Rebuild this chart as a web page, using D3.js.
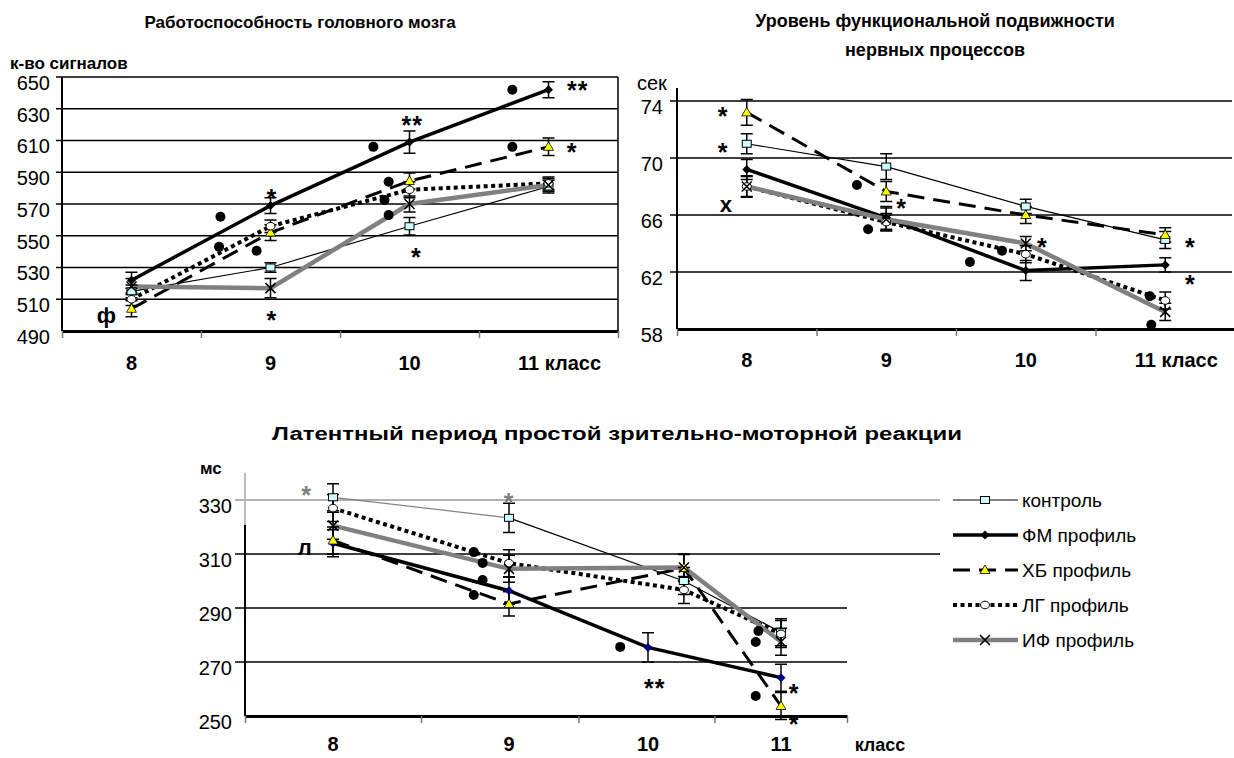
<!DOCTYPE html>
<html><head><meta charset="utf-8">
<script src="https://cdn.jsdelivr.net/npm/d3@7"></script>
<style>body{margin:0;background:#fff} svg{display:block}</style>
</head><body><svg id="c" width="1234" height="758"></svg>
<script>
// ---------- DATA ----------
const classes = [8, 9, 10, 11];
const classLabels = ["8", "9", "10", "11 класс"];
const seriesNames = ["контроль", "ФМ профиль", "ХБ профиль", "ЛГ профиль", "ИФ профиль"];

// Panel 1: Работоспособность головного мозга (к-во сигналов)
const workTicks = [490, 510, 530, 550, 570, 590, 610, 630, 650];
const workControl = [515, 530, 556, 581];
const workFM = [522, 569, 609, 642];
const workHB = [504, 552, 584.5, 606];
const workLG = [510, 556, 579, 583];
const workIF = [518, 517, 570, 582];
const workControlErr = [4, 3, 5.5, 4];
const workFMErr = [5, 5, 7, 5];
const workHBErr = [5, 5, 5, 5.5];
const workLGErr = [4, 4, 5, 4];
const workIFErr = [5, 6, 5, 4];
const workDots = [[8.64, 562], [8.63, 543], [8.9, 540.5], [9.74, 606], [9.85, 584], [9.82, 572.5], [9.85, 563], [10.74, 642], [10.74, 606]];
const workMarks = [[11.21, 645, "**"], [10.02, 623, "**"], [9.01, 577, "*"], [11.17, 606, "*"], [10.05, 540, "*"], [9.01, 500, "*"], [7.82, 499, "ф"]];

// Panel 2: Уровень функциональной подвижности нервных процессов (сек)
const mobTicks = [58, 62, 66, 70, 74];
const mobControl = [71.0, 69.4, 66.6, 64.25];
const mobFM = [69.2, 65.8, 62.1, 62.5];
const mobHB = [73.2, 67.65, 66.0, 64.6];
const mobLG = [68.0, 65.5, 63.25, 60.0];
const mobIF = [68.0, 65.7, 64.0, 59.2];
const mobControlErr = [0.7, 0.9, 0.5, 0.6];
const mobFMErr = [0.7, 0.8, 0.7, 0.5];
const mobHBErr = [0.9, 0.7, 0.6, 0.5];
const mobLGErr = [0.7, 0.6, 0.6, 0.6];
const mobIFErr = [0.75, 0.8, 0.5, 0.6];
const mobDots = [[8.79, 68.1], [8.87, 65.0], [9.6, 62.7], [9.83, 63.5], [10.89, 60.3], [10.9, 58.3]];
const mobMarks = [[7.83, 73.3, "*"], [7.83, 70.8, "*"], [7.85, 66.7, "x"], [9.11, 66.85, "*"], [10.12, 64.1, "*"], [11.18, 64.1, "*"], [11.18, 61.5, "*"]];

// Panel 3: Латентный период простой зрительно-моторной реакции (мс)
const latTicks = [250, 270, 290, 310, 330];
const latX = [8, 9, 10.27, 11];
const latXFM = [8, 9, 10, 11];
const latControl = [331, 323.4, 300, 281];
const latFM = [314, 296.4, 275.4, 264.2];
const latHB = [315, 291.5, 304.8, 253.7];
const latLG = [327, 306.6, 296.7, 280.4];
const latIF = [320.5, 304.5, 305, 277.5];
const latControlErr = [5, 5.4, 5, 5];
const latFMErr = [5, 5, 5.4, 5];
const latHBErr = [5, 4.5, 5, 5];
const latLGErr = [5, 5, 5, 5];
const latIFErr = [5, 5, 5, 5];
const latDots = [[8.8, 310.7], [8.85, 306.7], [8.85, 300.4], [8.8, 294.8], [9.8, 275.6], [10.83, 281.5], [10.81, 277.4], [10.81, 257.4]];
const latMarks = [[7.85, 333.7, "*", "#808080"], [9.0, 331, "*", "#808080"], [7.84, 312, "л"], [10.05, 262.2, "**"], [11.1, 260.5, "*"], [11.1, 249, "*"]];

// ---------- STYLE ----------
const FONT = '"Liberation Sans", Arial, Helvetica, sans-serif';
const styles = {
  "контроль":   {stroke: "#000", width: 1.2, dash: null, marker: "square"},
  "ФМ профиль": {stroke: "#000", width: 3.5, dash: null, marker: "diamond"},
  "ХБ профиль": {stroke: "#000", width: 3, dash: "17,9", marker: "triangle"},
  "ЛГ профиль": {stroke: "#000", width: 4, dash: "4,3.5", marker: "circle"},
  "ИФ профиль": {stroke: "#808080", width: 4.5, dash: null, marker: "x"}
};

const svg = d3.select("#c");

function marker(g, type, cx, cy, diamondFill) {
  if (type === "square") {
    g.append("rect").attr("x", cx - 4.5).attr("y", cy - 3.5).attr("width", 9).attr("height", 7)
      .attr("fill", "#ccffff").attr("stroke", "#000").attr("stroke-width", 1);
  } else if (type === "diamond") {
    g.append("path").attr("d", `M${cx},${cy - 4.5}L${cx + 4.5},${cy}L${cx},${cy + 4.5}L${cx - 4.5},${cy}Z`)
      .attr("fill", diamondFill || "#000");
  } else if (type === "triangle") {
    g.append("path").attr("d", `M${cx},${cy - 5}L${cx + 5},${cy + 3.5}L${cx - 5},${cy + 3.5}Z`)
      .attr("fill", "#ffff00").attr("stroke", "#000").attr("stroke-width", 0.8);
  } else if (type === "circle") {
    g.append("ellipse").attr("cx", cx).attr("cy", cy).attr("rx", 4.5).attr("ry", 3.8)
      .attr("fill", "#fff").attr("stroke", "#000").attr("stroke-width", 1);
  } else if (type === "x") {
    g.append("path").attr("d", `M${cx - 5},${cy - 5}L${cx + 5},${cy + 5}M${cx - 5},${cy + 5}L${cx + 5},${cy - 5}`)
      .attr("stroke", "#000").attr("stroke-width", 1.5);
  }
}

function drawPanel(o) {
  const g = svg.append("g");
  const x = o.x, y = o.y;
  const base = y(o.ticks[0]);

  g.selectAll("line.grid").data(o.ticks.slice(1)).join("line").attr("class", "grid")
    .attr("x1", o.gridLeft).attr("x2", t => o.gridRight(t))
    .attr("y1", t => y(t)).attr("y2", t => y(t))
    .attr("stroke", t => o.gridColor ? o.gridColor(t) : "#000").attr("stroke-width", 1.4);

  const yg = g.append("g").attr("transform", `translate(${o.axisX},0)`)
    .call(d3.axisLeft(y).tickValues(o.ticks).tickSize(0).tickPadding(o.labelPad));
  yg.select(".domain").remove();
  yg.selectAll("text").attr("font-size", 20).attr("font-family", FONT).attr("fill", "#000").attr("dy", "0.62em");

  if (o.axisGrayTo) {
    g.append("line").attr("x1", o.axisX).attr("x2", o.axisX).attr("y1", o.axisTop).attr("y2", o.axisGrayTo)
      .attr("stroke", "#bbb").attr("stroke-width", 2);
    g.append("line").attr("x1", o.axisX).attr("x2", o.axisX).attr("y1", o.axisGrayTo).attr("y2", base)
      .attr("stroke", "#000").attr("stroke-width", 2);
  } else {
    g.append("line").attr("x1", o.axisX).attr("x2", o.axisX).attr("y1", o.axisTop).attr("y2", base)
      .attr("stroke", "#000").attr("stroke-width", 2);
  }
  if (o.rightBorder) {
    const xr = x.range()[x.range().length - 1];
    g.append("line").attr("x1", xr).attr("x2", xr)
      .attr("y1", y(o.ticks[o.ticks.length - 1])).attr("y2", base).attr("stroke", "#000").attr("stroke-width", 1.5);
  }

  const xg = g.append("g").attr("transform", `translate(0,${base})`)
    .call(d3.axisBottom(x).tickValues([7.5, 8.5, 9.5, 10.5, 11.5]).tickSize(7).tickSizeOuter(0).tickFormat(""));
  xg.select(".domain").attr("stroke", "#000").attr("stroke-width", 2.8);
  xg.selectAll(".tick line").attr("stroke", "#777").attr("stroke-width", 1.5);

  classes.forEach((c, i) => {
    g.append("text").attr("x", x(c) + (o.catDx ? o.catDx[i] : 0)).attr("y", o.catY)
      .attr("text-anchor", "middle").attr("font-family", FONT).attr("font-weight", "bold")
      .attr("font-size", 20).text(o.catLabels[i]);
  });

  o.series.forEach(s => {
    const st = styles[s.name];
    const pts = s.values.map((v, i) => [x(s.xs[i]), y(v)]);
    const line = d3.line();
    if (s.firstColor) {
      g.append("path").attr("d", line(pts.slice(0, 2))).attr("fill", "none")
        .attr("stroke", s.firstColor).attr("stroke-width", st.width);
      g.append("path").attr("d", line(pts.slice(1))).attr("fill", "none")
        .attr("stroke", st.stroke).attr("stroke-width", st.width);
    } else {
      g.append("path").attr("d", line(pts)).attr("fill", "none")
        .attr("stroke", st.stroke).attr("stroke-width", st.width)
        .attr("stroke-dasharray", st.dash);
    }
  });
  o.series.forEach(s => {
    s.values.forEach((v, i) => {
      const cx = x(s.xs[i]);
      const ya = y(v + s.errs[i]), yb = y(v - s.errs[i]);
      g.append("path").attr("d", `M${cx},${ya}V${yb}M${cx - 6},${ya}H${cx + 6}M${cx - 6},${yb}H${cx + 6}`)
        .attr("stroke", "#000").attr("stroke-width", 1.5).attr("fill", "none");
    });
  });
  o.series.forEach(s => {
    const st = styles[s.name];
    s.values.forEach((v, i) => marker(g, st.marker, x(s.xs[i]), y(v), o.diamondFill));
  });
  g.selectAll("circle.dot").data(o.dots).join("circle").attr("class", "dot")
    .attr("cx", d => x(d[0])).attr("cy", d => y(d[1])).attr("r", 5).attr("fill", "#000");
  o.marks.forEach(m => {
    const star = m[2].indexOf("*") >= 0;
    g.append("text").attr("x", x(m[0])).attr("y", y(m[1]))
      .attr("dy", star ? "0.56em" : "0.3em")
      .attr("text-anchor", "middle").attr("font-family", FONT).attr("font-weight", "bold")
      .attr("font-size", star ? 25 : 22).attr("letter-spacing", star ? 1 : 0)
      .attr("fill", m[3] || "#000").text(m[2]);
  });
}

function title(lines, cx, y0, dy, size, len) {
  lines.forEach((t, i) => {
    const el = svg.append("text").attr("x", cx).attr("y", y0 + i * dy)
      .attr("text-anchor", "middle").attr("font-family", FONT).attr("font-weight", "bold")
      .attr("font-size", size).text(t);
    if (len) el.attr("textLength", len).attr("lengthAdjust", "spacingAndGlyphs");
  });
}

// ---------- PANEL 1 ----------
const x1 = d3.scaleLinear().domain([7.5, 11.5]).range([62, 618]);
const y1 = d3.scaleLinear().domain([490, 650]).range([331, 77]);
title(["Работоспособность головного мозга"], 300, 28, 0, 17);
svg.append("text").attr("x", 10).attr("y", 69).attr("font-family", FONT).attr("font-weight", "bold")
  .attr("font-size", 17).text("к-во сигналов");
drawPanel({
  x: x1, y: y1, ticks: workTicks, axisX: 62, axisTop: 77, labelPad: 12,
  gridLeft: 56, gridRight: () => 618, rightBorder: true,
  catLabels: classLabels, catDx: [0, 0, 0, 11], catY: 370,
  series: [
    {name: seriesNames[0], xs: classes, values: workControl, errs: workControlErr},
    {name: seriesNames[1], xs: classes, values: workFM, errs: workFMErr},
    {name: seriesNames[2], xs: classes, values: workHB, errs: workHBErr},
    {name: seriesNames[3], xs: classes, values: workLG, errs: workLGErr},
    {name: seriesNames[4], xs: classes, values: workIF, errs: workIFErr}
  ],
  dots: workDots, marks: workMarks
});

// ---------- PANEL 2 ----------
const x2 = d3.scaleLinear().domain([7.5, 11.5]).range([677, 1235]);
const y2 = d3.scaleLinear().domain([58, 74]).range([329, 101]);
title(["Уровень функциональной подвижности", "нервных процессов"], 935, 27, 29, 18);
svg.append("text").attr("x", 637).attr("y", 90).attr("font-family", FONT)
  .attr("font-size", 20).text("сек");
drawPanel({
  x: x2, y: y2, ticks: mobTicks, axisX: 677, axisTop: 88, labelPad: 14,
  gridLeft: 670, gridRight: () => 1232,
  catLabels: classLabels, catDx: [0, 0, 0, 11], catY: 367,
  series: [
    {name: seriesNames[0], xs: classes, values: mobControl, errs: mobControlErr},
    {name: seriesNames[1], xs: classes, values: mobFM, errs: mobFMErr},
    {name: seriesNames[2], xs: classes, values: mobHB, errs: mobHBErr},
    {name: seriesNames[3], xs: classes, values: mobLG, errs: mobLGErr},
    {name: seriesNames[4], xs: classes, values: mobIF, errs: mobIFErr}
  ],
  dots: mobDots, marks: mobMarks
});

// ---------- PANEL 3 ----------
const x3 = d3.scaleLinear().domain([7.5, 8, 9, 10, 11, 11.5]).range([245, 333, 509, 648, 781, 847]);
const y3 = d3.scaleLinear().domain([250, 330]).range([716, 500]);
title(["Латентный период простой зрительно-моторной реакции"], 617, 440, 0, 18, 690);
svg.append("text").attr("x", 200).attr("y", 474).attr("font-family", FONT).attr("font-weight", "bold")
  .attr("font-size", 17).text("мс");
drawPanel({
  x: x3, y: y3, ticks: latTicks, axisX: 245, axisTop: 473, axisGrayTo: 525, labelPad: 13,
  gridLeft: 235, gridRight: t => (t >= 310 ? 940 : 847), gridColor: t => (t === 330 ? "#999" : "#000"),
  catLabels: ["8", "9", "10", "11"], catY: 751, diamondFill: "#000080",
  series: [
    {name: seriesNames[0], xs: latX, values: latControl, errs: latControlErr, firstColor: "#808080"},
    {name: seriesNames[1], xs: latXFM, values: latFM, errs: latFMErr},
    {name: seriesNames[2], xs: latX, values: latHB, errs: latHBErr},
    {name: seriesNames[3], xs: latX, values: latLG, errs: latLGErr},
    {name: seriesNames[4], xs: latX, values: latIF, errs: latIFErr}
  ],
  dots: latDots, marks: latMarks
});
svg.append("text").attr("x", 880).attr("y", 751).attr("text-anchor", "middle").attr("font-family", FONT)
  .attr("font-weight", "bold").attr("font-size", 18).text("класс");

// ---------- LEGEND ----------
const lg = svg.append("g");
seriesNames.forEach((n, i) => {
  const st = styles[n];
  const yy = 500 + i * 35;
  lg.append("line").attr("x1", 953).attr("x2", 1018).attr("y1", yy).attr("y2", yy)
    .attr("stroke", st.stroke).attr("stroke-width", st.width).attr("stroke-dasharray", st.dash);
  marker(lg, st.marker, 985, yy);
  lg.append("text").attr("x", 1022).attr("y", yy).attr("dy", "0.35em").attr("font-family", FONT)
    .attr("font-size", 19).text(n);
});
</script>
</body></html>
